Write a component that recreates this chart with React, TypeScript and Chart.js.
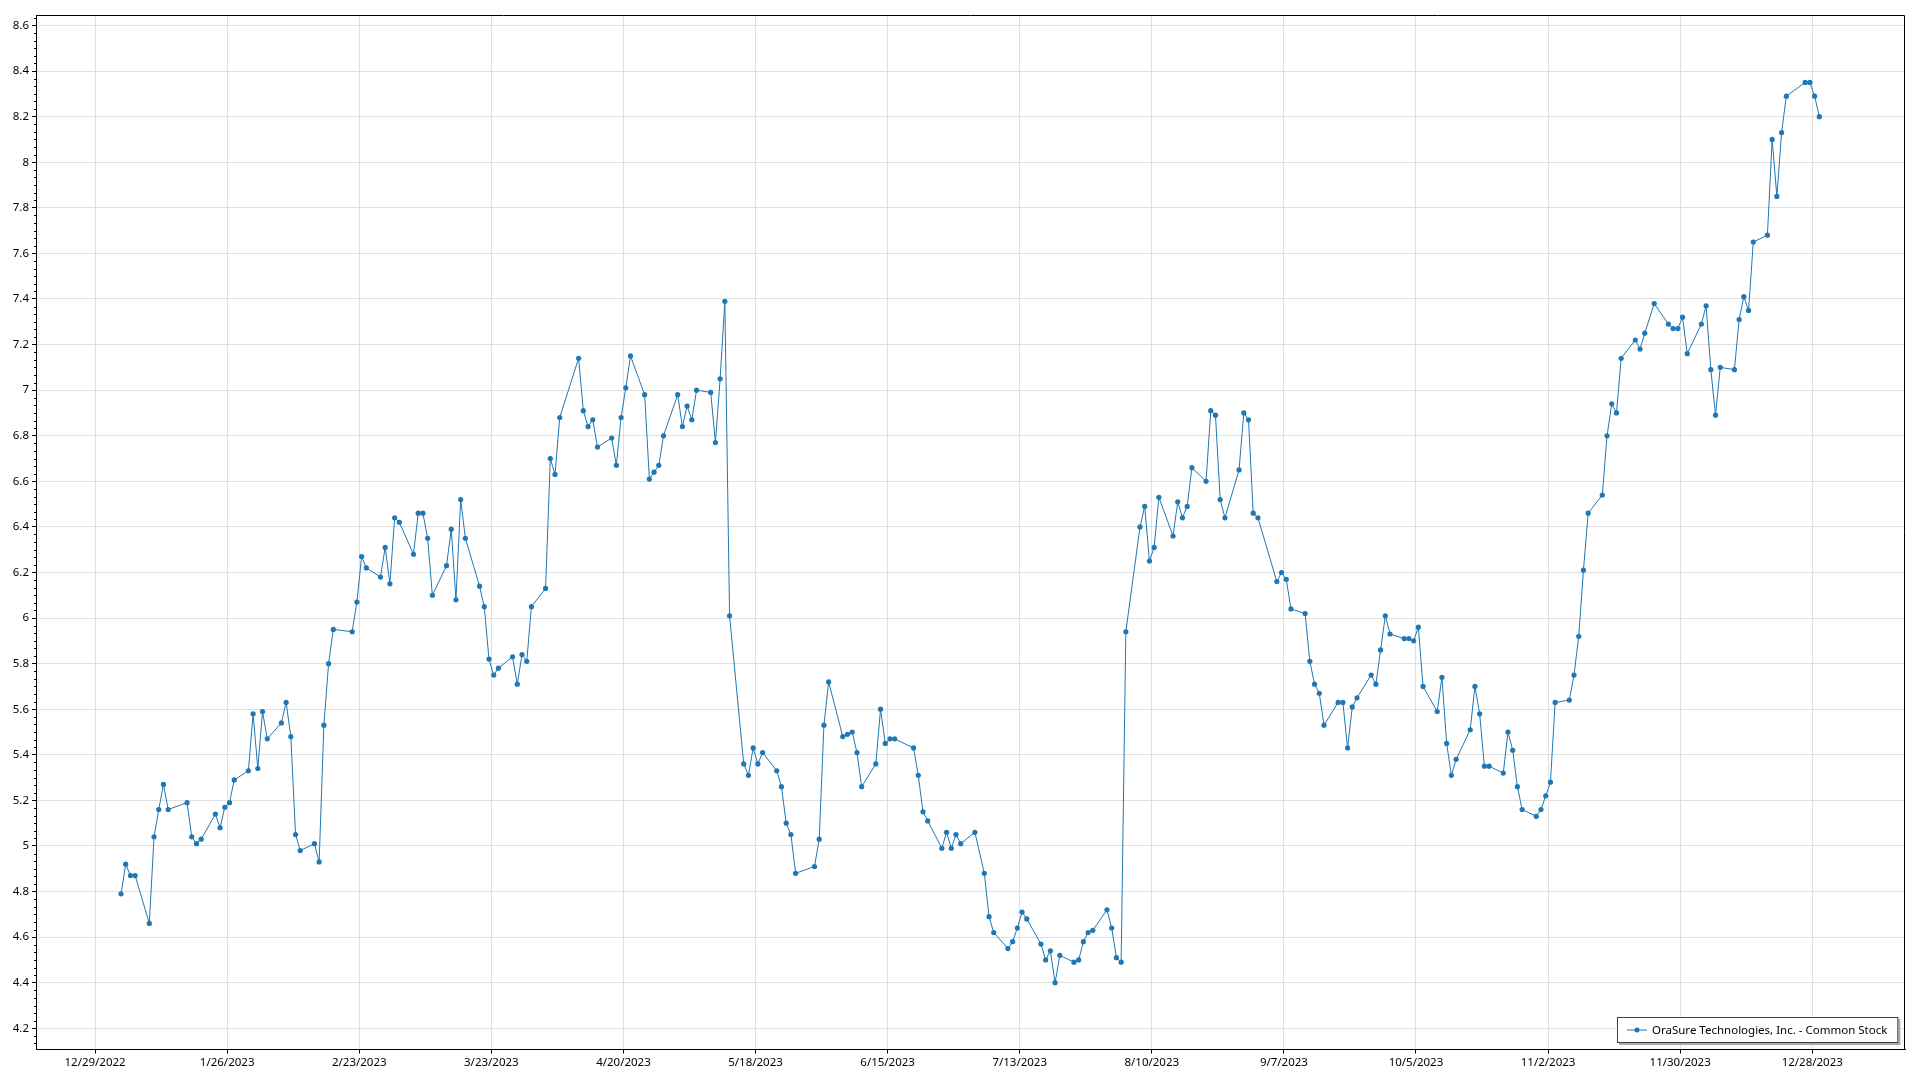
import React, { useEffect, useRef } from "react";
import { Chart, registerables } from "chart.js";

Chart.register(...registerables);

const SERIES_LABEL = "OraSure Technologies, Inc. - Common Stock";
const YEAR = 2023;

// Trading days (day of month) and closing prices, per month of 2023
const janDays = [3, 4, 5, 6, 9, 10, 11, 12, 13, 17, 18, 19, 20, 23, 24, 25, 26, 27, 30, 31];
const janClose = [4.79, 4.92, 4.87, 4.87, 4.66, 5.04, 5.16, 5.27, 5.16, 5.19, 5.04, 5.01, 5.03, 5.14, 5.08, 5.17, 5.19, 5.29, 5.33, 5.58];
const febDays = [1, 2, 3, 6, 7, 8, 9, 10, 13, 14, 15, 16, 17, 21, 22, 23, 24, 27, 28];
const febClose = [5.34, 5.59, 5.47, 5.54, 5.63, 5.48, 5.05, 4.98, 5.01, 4.93, 5.53, 5.8, 5.95, 5.94, 6.07, 6.27, 6.22, 6.18, 6.31];
const marDays = [1, 2, 3, 6, 7, 8, 9, 10, 13, 14, 15, 16, 17, 20, 21, 22, 23, 24, 27, 28, 29, 30, 31];
const marClose = [6.15, 6.44, 6.42, 6.28, 6.46, 6.46, 6.35, 6.1, 6.23, 6.39, 6.08, 6.52, 6.35, 6.14, 6.05, 5.82, 5.75, 5.78, 5.83, 5.71, 5.84, 5.81, 6.05];
const aprDays = [3, 4, 5, 6, 10, 11, 12, 13, 14, 17, 18, 19, 20, 21, 24, 25, 26, 27, 28];
const aprClose = [6.13, 6.7, 6.63, 6.88, 7.14, 6.91, 6.84, 6.87, 6.75, 6.79, 6.67, 6.88, 7.01, 7.15, 6.98, 6.61, 6.64, 6.67, 6.8];
const mayDays = [1, 2, 3, 4, 5, 8, 9, 10, 11, 12, 15, 16, 17, 18, 19, 22, 23, 24, 25, 26, 30, 31];
const mayClose = [6.98, 6.84, 6.93, 6.87, 7.0, 6.99, 6.77, 7.05, 7.39, 6.01, 5.36, 5.31, 5.43, 5.36, 5.41, 5.33, 5.26, 5.1, 5.05, 4.88, 4.91, 5.03];
const junDays = [1, 2, 5, 6, 7, 8, 9, 12, 13, 14, 15, 16, 20, 21, 22, 23, 26, 27, 28, 29, 30];
const junClose = [5.53, 5.72, 5.48, 5.49, 5.5, 5.41, 5.26, 5.36, 5.6, 5.45, 5.47, 5.47, 5.43, 5.31, 5.15, 5.11, 4.99, 5.06, 4.99, 5.05, 5.01];
const julDays = [3, 5, 6, 7, 10, 11, 12, 13, 14, 17, 18, 19, 20, 21, 24, 25, 26, 27, 28, 31];
const julClose = [5.06, 4.88, 4.69, 4.62, 4.55, 4.58, 4.64, 4.71, 4.68, 4.57, 4.5, 4.54, 4.4, 4.52, 4.49, 4.5, 4.58, 4.62, 4.63, 4.72];
const augDays = [1, 2, 3, 4, 7, 8, 9, 10, 11, 14, 15, 16, 17, 18, 21, 22, 23, 24, 25, 28, 29, 30, 31];
const augClose = [4.64, 4.51, 4.49, 5.94, 6.4, 6.49, 6.25, 6.31, 6.53, 6.36, 6.51, 6.44, 6.49, 6.66, 6.6, 6.91, 6.89, 6.52, 6.44, 6.65, 6.9, 6.87, 6.46];
const sepDays = [1, 5, 6, 7, 8, 11, 12, 13, 14, 15, 18, 19, 20, 21, 22, 25, 26, 27, 28, 29];
const sepClose = [6.44, 6.16, 6.2, 6.17, 6.04, 6.02, 5.81, 5.71, 5.67, 5.53, 5.63, 5.63, 5.43, 5.61, 5.65, 5.75, 5.71, 5.86, 6.01, 5.93];
const octDays = [2, 3, 4, 5, 6, 9, 10, 11, 12, 13, 16, 17, 18, 19, 20, 23, 24, 25, 26, 27, 30, 31];
const octClose = [5.91, 5.91, 5.9, 5.96, 5.7, 5.59, 5.74, 5.45, 5.31, 5.38, 5.51, 5.7, 5.58, 5.35, 5.35, 5.32, 5.5, 5.42, 5.26, 5.16, 5.13, 5.16];
const novDays = [1, 2, 3, 6, 7, 8, 9, 10, 13, 14, 15, 16, 17, 20, 21, 22, 24, 27, 28, 29, 30];
const novClose = [5.22, 5.28, 5.63, 5.64, 5.75, 5.92, 6.21, 6.46, 6.54, 6.8, 6.94, 6.9, 7.14, 7.22, 7.18, 7.25, 7.38, 7.29, 7.27, 7.27, 7.32];
const decDays = [1, 4, 5, 6, 7, 8, 11, 12, 13, 14, 15, 18, 19, 20, 21, 22, 26, 27, 28, 29];
const decClose = [7.16, 7.29, 7.37, 7.09, 6.89, 7.1, 7.09, 7.31, 7.41, 7.35, 7.65, 7.68, 8.1, 7.85, 8.13, 8.29, 8.35, 8.35, 8.29, 8.2];

const xTickLabels = [
  "12/29/2022", "1/26/2023", "2/23/2023", "3/23/2023", "4/20/2023", "5/18/2023", "6/15/2023",
  "7/13/2023", "8/10/2023", "9/7/2023", "10/5/2023", "11/2/2023", "11/30/2023", "12/28/2023",
];
const yTickValues = [4.2, 4.4, 4.6, 4.8, 5, 5.2, 5.4, 5.6, 5.8, 6, 6.2, 6.4, 6.6, 6.8, 7, 7.2, 7.4, 7.6, 7.8, 8, 8.2, 8.4, 8.6];

const monthDays = [janDays, febDays, marDays, aprDays, mayDays, junDays, julDays, augDays, sepDays, octDays, novDays, decDays];
const monthClose = [janClose, febClose, marClose, aprClose, mayClose, junClose, julClose, augClose, sepClose, octClose, novClose, decClose];

const EPOCH = Date.UTC(2022, 11, 29);
const DAY_MS = 86400000;
const toDay = (y: number, m: number, d: number) => (Date.UTC(y, m - 1, d) - EPOCH) / DAY_MS;
const parseLabel = (s: string) => {
  const [m, d, y] = s.split("/").map(Number);
  return toDay(y, m, d);
};
const fmtDay = (v: number) => {
  const dt = new Date(EPOCH + Math.round(v) * DAY_MS);
  return `${dt.getUTCMonth() + 1}/${dt.getUTCDate()}/${dt.getUTCFullYear()}`;
};

const BLUE = "#1f77b4";
const FONT = '"Noto Sans", "Open Sans", sans-serif';

export default function App() {
  const ref = useRef<HTMLCanvasElement | null>(null);

  useEffect(() => {
    const canvas = ref.current;
    if (!canvas) return;

    const points: { x: number; y: number }[] = [];
    monthDays.forEach((days, mi) => {
      days.forEach((d, i) => {
        points.push({ x: toDay(YEAR, mi + 1, d) + 0.5, y: monthClose[mi][i] });
      });
    });

    const xTicks = xTickLabels.map(parseLabel);

    const decorPlugin = {
      id: "decor",
      afterDraw(chart: any) {
        const { ctx, chartArea: a } = chart;
        ctx.save();
        // frame
        ctx.strokeStyle = "#000";
        ctx.lineWidth = 1;
        const L = Math.round(a.left) + 0.5;
        const T = Math.round(a.top) + 0.5;
        const R = Math.round(a.right) - 0.5;
        const B = Math.round(a.bottom) - 0.5;
        ctx.beginPath();
        ctx.moveTo(L, B);
        ctx.lineTo(L, T);
        ctx.lineTo(R, T);
        ctx.lineTo(R, B);
        ctx.lineTo(L, B);
        ctx.stroke();

        // minor ticks on y axis
        const ys = chart.scales.y;
        const step = 0.2 / 6;
        ctx.beginPath();
        for (let k = -3; k <= 140; k++) {
          if (k % 6 === 0) continue;
          const v = 4.2 + k * step;
          if (v < ys.min || v > ys.max) continue;
          const py = Math.round(ys.getPixelForValue(v)) + 0.5;
          ctx.moveTo(L - 2.5, py);
          ctx.lineTo(L, py);
        }
        ctx.stroke();

        // legend
        ctx.font = `11.5px ${FONT}`;
        const tw = ctx.measureText(SERIES_LABEL).width;
        const bw = 35 + tw + 11;
        const bh = 26;
        const bx = Math.round(a.right - 7 - bw);
        const by = Math.round(a.bottom - 6.5 - bh);
        ctx.fillStyle = "#a8a8a8";
        ctx.fillRect(bx + 2, by + 2, bw, bh);
        ctx.fillStyle = "#ffffff";
        ctx.fillRect(bx, by, bw, bh);
        ctx.strokeStyle = "#404040";
        ctx.lineWidth = 1;
        ctx.strokeRect(bx + 0.5, by + 0.5, bw - 1, bh - 1);
        const cy = by + bh / 2;
        ctx.strokeStyle = BLUE;
        ctx.beginPath();
        ctx.moveTo(bx + 10, cy);
        ctx.lineTo(bx + 30, cy);
        ctx.stroke();
        ctx.fillStyle = BLUE;
        ctx.beginPath();
        ctx.arc(bx + 20, cy, 2.5, 0, Math.PI * 2);
        ctx.fill();
        ctx.fillStyle = "#000";
        ctx.textBaseline = "middle";
        ctx.textAlign = "left";
        ctx.fillText(SERIES_LABEL, bx + 35, cy + 0.5);
        ctx.restore();
      },
    };

    const chart = new Chart(canvas, {
      type: "line",
      data: {
        datasets: [
          {
            label: SERIES_LABEL,
            data: points,
            borderColor: BLUE,
            backgroundColor: BLUE,
            borderWidth: 1,
            pointRadius: 2.6,
            pointBorderWidth: 0,
            pointBackgroundColor: BLUE,
            tension: 0,
            fill: false,
          },
        ],
      },
      options: {
        animation: false,
        responsive: false,
        events: [],
        parsing: false,
        layout: { padding: { top: 15, right: 15, left: 0, bottom: 0 } },
        plugins: {
          legend: { display: false },
          tooltip: { enabled: false },
          title: { display: false },
        },
        scales: {
          x: {
            type: "linear",
            min: xTicks[0] - 12.52,
            max: xTicks[xTicks.length - 1] + 19.66,
            afterBuildTicks: (scale: any) => {
              scale.ticks = xTicks.map((v) => ({ value: v }));
            },
            afterFit: (scale: any) => {
              scale.height = 30.5;
            },
            grid: {
              color: "#e0e0e0",
              lineWidth: 1,
              drawTicks: true,
              tickLength: 4,
              tickColor: "#000",
            },
            border: { display: true, color: "#000", width: 1 },
            ticks: {
              autoSkip: false,
              maxRotation: 0,
              padding: 2,
              color: "#000",
              font: { family: FONT, size: 11.5 },
              callback: (v: any) => fmtDay(Number(v)),
            },
          },
          y: {
            type: "linear",
            min: 4.107,
            max: 8.646,
            afterBuildTicks: (scale: any) => {
              scale.ticks = yTickValues.map((v) => ({ value: v }));
            },
            afterFit: (scale: any) => {
              scale.width = 36;
            },
            grid: {
              color: "#e0e0e0",
              lineWidth: 1,
              drawTicks: true,
              tickLength: 4,
              tickColor: "#000",
            },
            border: { display: true, color: "#000", width: 1 },
            ticks: {
              autoSkip: false,
              padding: 3,
              color: "#000",
              font: { family: FONT, size: 11.5 },
              callback: (v: any) => String(Number(Number(v).toFixed(1))),
            },
          },
        },
      },
      plugins: [decorPlugin],
    });

    return () => chart.destroy();
  }, []);

  return (
    <div style={{ position: "absolute", left: 0, top: 0, width: 1920, height: 1080, background: "#fff" }}>
      <canvas ref={ref} width={1920} height={1080} style={{ display: "block", width: 1920, height: 1080 }} />
    </div>
  );
}
